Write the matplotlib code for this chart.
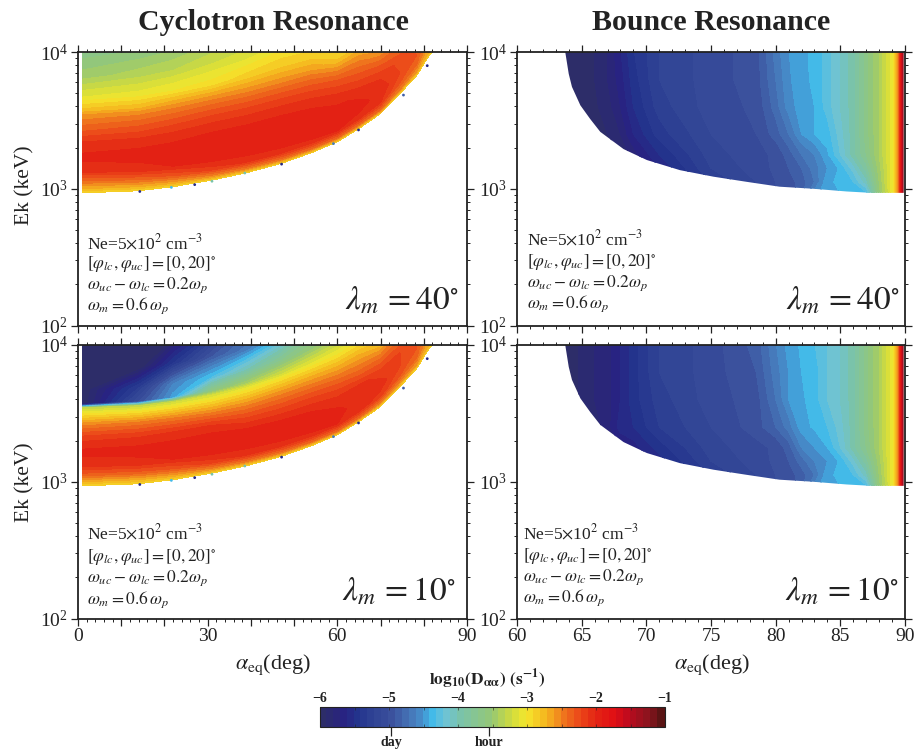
import numpy as np
import matplotlib
matplotlib.use('Agg')
import matplotlib.pyplot as plt
from matplotlib.cm import ScalarMappable
from matplotlib.colors import BoundaryNorm, LinearSegmentedColormap
from matplotlib.patches import Polygon
from matplotlib.ticker import FixedLocator, LogLocator, NullFormatter, LogFormatterMathtext

plt.rcParams['font.family'] = ['Liberation Serif', 'DejaVu Serif']
plt.rcParams['mathtext.fontset'] = 'stix'

W, H = 922, 752
INK = '#222222'

# colour scale: log10(D) -> rgb
cmap_pos = [-6, -5.7, -5.5, -5.2, -5, -4.7, -4.5, -4.4, -4.2, -4, -3.5, -3.2, -3, -2.7, -2.5, -2.2, -2, -1.7, -1.5, -1.2, -1]
cmap_rgb = [(45, 45, 105), (40, 35, 130), (35, 50, 140), (50, 70, 150), (58, 78, 155), (70, 120, 185), (70, 150, 210),
            (60, 185, 235), (110, 195, 215), (120, 195, 175), (150, 200, 115), (210, 220, 60), (245, 232, 45),
            (245, 180, 30), (240, 130, 30), (235, 70, 25), (228, 40, 20), (225, 15, 20), (190, 10, 30),
            (140, 20, 30), (90, 20, 20)]
day_pos, hour_pos = -4.97, -3.55

# cyclotron panels: lower edge of the filled region
cyc_alpha = [1, 14, 22, 31, 39, 47, 54, 60, 65, 70, 74.5, 78.4, 81, 82]
cyc_edge = [2.97, 2.985, 3.015, 3.063, 3.117, 3.185, 3.263, 3.343, 3.44, 3.55, 3.696, 3.83, 3.963, 4.0]
# height above that edge, in decades of Ek
cyc_offset = [0, .03, .08, .15, .25, .35, .45, .57, .60, .7, .85, 1.05]

# one row per cyc_alpha, one column per cyc_offset
cyc_40 = [
    [-2.9, -2.7, -2.45, -2.1, -1.97, -2.05, -2.3, -2.6, -2.75, -3.1, -3.45, -3.7],
    [-2.9, -2.7, -2.4, -2.05, -1.96, -2.03, -2.25, -2.55, -2.7, -3.05, -3.35, -3.65],
    [-2.9, -2.65, -2.3, -2.0, -1.95, -2.02, -2.2, -2.5, -2.6, -3.0, -3.3, -3.6],
    [-2.9, -2.55, -2.15, -1.96, -1.93, -2.0, -2.15, -2.45, -2.55, -2.95, -3.2, -3.5],
    [-2.9, -2.5, -2.08, -1.95, -1.93, -2.0, -2.15, -2.45, -2.55, -2.85, -3.15, -3.4],
    [-2.9, -2.45, -2.05, -1.94, -1.93, -2.0, -2.15, -2.45, -2.55, -2.8, -3.05, -3.3],
    [-2.9, -2.4, -2.02, -1.94, -1.95, -2.02, -2.2, -2.5, -2.6, -2.85, -3.05, -3.2],
    [-2.9, -2.4, -2.0, -1.94, -1.98, -2.1, -2.3, -2.7, -2.8, -3.0, -3.1, -3.2],
    [-2.9, -2.4, -2.03, -1.97, -2.02, -2.2, -2.4, -2.7, -2.8, -3.0, -3.1, -3.2],
    [-2.9, -2.4, -2.1, -2.03, -2.1, -2.3, -2.6, -2.8, -2.9, -3.0, -3.1, -3.2],
    [-2.9, -2.5, -2.3, -2.2, -2.25, -2.4, -2.6, -2.8, -2.9, -3.0, -3.1, -3.2],
    [-2.9, -2.6, -2.4, -2.3, -2.35, -2.5, -2.6, -2.8, -2.9, -3.0, -3.1, -3.2],
    [-2.9, -2.7, -2.6, -2.5, -2.5, -2.6, -2.7, -2.8, -2.9, -3.0, -3.1, -3.2],
    [-3.0, -2.8, -2.7, -2.6, -2.6, -2.7, -2.8, -2.9, -3.0, -3.1, -3.2, -3.3],
]
cyc_10 = [
    [-2.9, -2.7, -2.35, -2.05, -1.97, -2.15, -2.55, -3.3, -6.0, -6.0, -6.0, -6.0],
    [-2.9, -2.7, -2.35, -2.03, -1.96, -2.12, -2.5, -3.3, -5.0, -5.3, -6.0, -6.0],
    [-2.9, -2.65, -2.3, -2.0, -1.95, -2.1, -2.5, -3.25, -4.45, -4.6, -5.4, -6.0],
    [-2.9, -2.55, -2.15, -1.96, -1.93, -2.1, -2.55, -3.2, -3.6, -4.3, -4.9, -5.5],
    [-2.9, -2.5, -2.08, -1.95, -1.95, -2.2, -2.55, -3.1, -3.4, -4.0, -4.65, -5.0],
    [-2.9, -2.45, -2.05, -1.94, -1.97, -2.2, -2.5, -3.0, -3.2, -3.7, -4.3, -4.7],
    [-2.9, -2.4, -2.02, -1.94, -2.0, -2.2, -2.5, -2.95, -3.1, -3.5, -3.9, -4.3],
    [-2.9, -2.4, -2.0, -1.96, -2.05, -2.25, -2.55, -2.95, -3.05, -3.4, -3.8, -4.1],
    [-2.9, -2.4, -2.05, -2.05, -2.05, -2.35, -2.6, -2.95, -3.05, -3.3, -3.6, -3.9],
    [-2.9, -2.5, -2.15, -2.05, -2.15, -2.4, -2.75, -3.0, -3.1, -3.3, -3.5, -3.8],
    [-2.9, -2.55, -2.3, -2.2, -2.2, -2.4, -2.6, -3.0, -3.1, -3.3, -3.5, -3.8],
    [-2.9, -2.6, -2.4, -2.3, -2.3, -2.5, -2.7, -3.0, -3.1, -3.3, -3.5, -3.8],
    [-2.9, -2.7, -2.6, -2.5, -2.5, -2.6, -2.7, -3.0, -3.1, -3.3, -3.5, -3.8],
    [-3.0, -2.8, -2.7, -2.6, -2.6, -2.7, -2.8, -3.0, -3.1, -3.3, -3.5, -3.8],
]
# small dark specks along the cyclotron edge
speck_alpha = [14.3, 21.6, 27, 31, 38.6, 47.1, 59.1, 64.9, 75.3, 80.8]
speck_edge = [2.985, 3.015, 3.035, 3.06, 3.12, 3.185, 3.335, 3.435, 3.69, 3.905]
speck_val = [-5.6, -4.4, -5.6, -4.0, -4.0, -5.6, -4.7, -5.6, -4.9, -5.6]

# bounce panels: edge of the filled region
bnc_edge_alpha = [63.73, 64, 64.25, 64.9, 65.66, 66.44, 68.24, 70.04, 72.6, 75.2, 77.8, 80.3, 82.9, 85.5, 87.4, 89.9]
bnc_edge_log = [4.0, 3.84, 3.745, 3.61, 3.51, 3.416, 3.29, 3.21, 3.136, 3.088, 3.05, 3.015, 3.0, 2.98, 2.97, 2.97]
bnc_alpha = [63.5, 66, 67, 68, 69, 71, 75, 78.5, 80, 81, 82, 83, 84, 85, 86, 87, 88, 89, 89.4, 89.6, 89.9]
bnc_log = [2.96, 3.05, 3.15, 3.25, 3.4, 3.6, 3.8, 4.05]

# one row per bnc_log, one column per bnc_alpha
bnc_40 = [
    [-6, -6, -6, -6, -5.9, -5.7, -5.2, -5.05, -5.0, -4.95, -4.85, -4.55, -4.42, -4.4, -4.38, -4.35, -3.55, -3.05, -2.6, -2.0, -1.2],
    [-6, -6, -6, -6, -5.9, -5.65, -5.3, -5.1, -5.0, -4.95, -4.85, -4.7, -4.42, -4.38, -4.3, -4.05, -3.5, -3.05, -2.6, -2.0, -1.2],
    [-6, -6, -6, -5.95, -5.85, -5.6, -5.2, -5.05, -4.98, -4.9, -4.8, -4.65, -4.5, -4.38, -4.15, -3.85, -3.45, -3.05, -2.6, -2.0, -1.2],
    [-6, -6, -6, -5.9, -5.75, -5.5, -5.15, -5.03, -4.98, -4.85, -4.7, -4.6, -4.42, -4.2, -3.95, -3.7, -3.4, -3.05, -2.6, -2.0, -1.2],
    [-6, -6, -5.9, -5.8, -5.6, -5.35, -5.1, -5.0, -4.85, -4.7, -4.5, -4.4, -4.35, -4.15, -3.95, -3.65, -3.4, -3.05, -2.6, -2.0, -1.2],
    [-6, -5.92, -5.85, -5.7, -5.5, -5.25, -5.05, -4.98, -4.75, -4.55, -4.45, -4.4, -4.25, -4.1, -3.95, -3.65, -3.4, -3.05, -2.6, -2.0, -1.2],
    [-6, -5.9, -5.8, -5.65, -5.45, -5.2, -5.05, -4.95, -4.7, -4.52, -4.43, -4.38, -4.25, -4.1, -3.95, -3.65, -3.4, -3.05, -2.6, -2.0, -1.2],
    [-6, -5.9, -5.8, -5.6, -5.4, -5.2, -5.05, -4.95, -4.65, -4.5, -4.42, -4.38, -4.25, -4.1, -3.95, -3.65, -3.4, -3.05, -2.6, -2.0, -1.2],
]
bnc_10 = [
    [-6, -6, -6, -5.95, -5.85, -5.65, -5.2, -5.05, -5.0, -4.95, -4.85, -4.55, -4.42, -4.4, -4.38, -4.35, -3.55, -3.05, -2.6, -2.0, -1.2],
    [-6, -6, -6, -5.9, -5.8, -5.6, -5.3, -5.1, -5.0, -4.95, -4.85, -4.7, -4.42, -4.38, -4.3, -4.05, -3.5, -3.05, -2.6, -2.0, -1.2],
    [-6, -6, -5.95, -5.8, -5.7, -5.55, -5.2, -5.05, -4.98, -4.9, -4.75, -4.6, -4.5, -4.38, -4.15, -3.85, -3.45, -3.05, -2.6, -2.0, -1.2],
    [-6, -6, -5.85, -5.7, -5.65, -5.45, -5.15, -5.03, -4.98, -4.85, -4.6, -4.5, -4.4, -4.2, -3.95, -3.7, -3.4, -3.05, -2.6, -2.0, -1.2],
    [-6, -5.85, -5.75, -5.55, -5.5, -5.3, -5.1, -4.95, -4.8, -4.65, -4.45, -4.38, -4.3, -4.15, -3.95, -3.65, -3.4, -3.05, -2.6, -2.0, -1.2],
    [-6, -5.8, -5.75, -5.6, -5.45, -5.25, -5.05, -4.95, -4.7, -4.5, -4.42, -4.35, -4.2, -4.1, -3.95, -3.65, -3.4, -3.05, -2.6, -2.0, -1.2],
    [-6, -5.8, -5.75, -5.6, -5.45, -5.2, -5.05, -4.9, -4.65, -4.5, -4.4, -4.35, -4.2, -4.1, -3.95, -3.65, -3.4, -3.05, -2.6, -2.0, -1.2],
    [-6, -5.8, -5.75, -5.6, -5.45, -5.2, -5.05, -4.85, -4.6, -4.45, -4.38, -4.3, -4.2, -4.1, -3.95, -3.65, -3.4, -3.05, -2.6, -2.0, -1.2],
]

param_lines = [r'Ne=5$\times$10$^{2}$ cm$^{-3}$',
               r'$[\varphi_{lc},\varphi_{uc}]=[0,20]^{\circ}$',
               r'$\omega_{uc}-\omega_{lc}=0.2\omega_{p}$',
               r'$\omega_{m}=0.6\,\omega_{p}$']

stops = [(p + 6) / 5 for p in cmap_pos]
cols = [tuple(c / 255 for c in rgb) for rgb in cmap_rgb]
cmap = LinearSegmentedColormap.from_list('dkk', list(zip(stops, cols)), N=256)
levels = np.linspace(-6, -1, 51)
norm = BoundaryNorm(levels, cmap.N)


def make_axes(x0, x1, y0, y1):
    return fig.add_axes([x0 / W, 1 - y1 / H, (x1 - x0) / W, (y1 - y0) / H])


def style_axes(ax, xlim, major, minor, xlabels):
    ax.set_xlim(*xlim)
    ax.set_yscale('log')
    ax.set_ylim(1e2, 1e4)
    for s in ax.spines.values():
        s.set_linewidth(1.3)
        s.set_color(INK)
    ax.xaxis.set_major_locator(FixedLocator(np.arange(xlim[0], xlim[1] + 1, major)))
    ax.xaxis.set_minor_locator(FixedLocator(np.arange(xlim[0], xlim[1] + 1, minor)))
    ax.yaxis.set_major_locator(LogLocator(base=10))
    ax.yaxis.set_major_formatter(LogFormatterMathtext())
    ax.yaxis.set_minor_locator(LogLocator(base=10, subs=range(2, 10), numticks=10))
    ax.yaxis.set_minor_formatter(NullFormatter())
    ax.tick_params(which='major', direction='out', length=5, width=0.9, color=INK, top=True, right=True,
                   labelsize=14, labelcolor=INK, pad=2)
    ax.tick_params(which='minor', direction='out', length=2, width=0.7, color=INK, top=True, right=True)
    if xlabels is None:
        ax.set_xticklabels([])
    else:
        ax.set_xticklabels(xlabels)
    ax.set_zorder(2)


def add_notes(x_px, y_px, lam_text, lam_x, lam_y):
    for line, y in zip(param_lines, y_px):
        fig.text(x_px / W, 1 - y / H, line, fontsize=12.5, color=INK, va='center', ha='left', zorder=5)
    fig.text(lam_x / W, 1 - lam_y / H, lam_text, fontsize=24, color=INK, ha='right', va='center', zorder=5)


def draw_cyclotron(ax, table):
    X = np.tile(cyc_alpha, (len(cyc_offset), 1))
    Y = np.array(cyc_edge)[None, :] + np.array(cyc_offset)[:, None]
    Z = np.array(table).T
    ax.contourf(X, 10 ** Y, Z, levels=levels, cmap=cmap, norm=norm)
    ax.scatter(speck_alpha, 10 ** (np.array(speck_edge) - 0.005), c=speck_val, cmap=cmap, norm=norm, s=4, marker='o',
               linewidths=0)


def draw_bounce(ax, table):
    cs = ax.contourf(bnc_alpha, 10 ** np.array(bnc_log), np.array(table), levels=levels, cmap=cmap, norm=norm)
    verts = list(zip(bnc_edge_alpha, 10 ** np.array(bnc_edge_log))) + [(89.9, 1e4)]
    cs.set_clip_path(Polygon(verts, closed=True, transform=ax.transData))


fig = plt.figure(figsize=(W / 100, H / 100), dpi=100)

ax_c40 = make_axes(78, 467, 52, 325.5)
ax_b40 = make_axes(517, 905, 52, 325.5)
ax_c10 = make_axes(78, 467, 345, 618.5)
ax_b10 = make_axes(517, 905, 345, 618.5)

draw_cyclotron(ax_c40, cyc_40)
draw_cyclotron(ax_c10, cyc_10)
draw_bounce(ax_b40, bnc_40)
draw_bounce(ax_b10, bnc_10)

cyc_labels = ['0', '', '', '30', '', '', '60', '', '', '90']
style_axes(ax_c40, (0, 90), 10, 2, None)
style_axes(ax_c10, (0, 90), 10, 2, cyc_labels)
style_axes(ax_b40, (60, 90), 5, 1, None)
style_axes(ax_b10, (60, 90), 5, 1, ['60', '65', '70', '75', '80', '85', '90'])

add_notes(87, [243, 264, 285, 306], r'$\lambda_{m}\,=40^{\circ}$', 459, 301)
add_notes(527, [239, 262, 283, 304], r'$\lambda_{m}\,=40^{\circ}$', 900, 301)
add_notes(87, [533, 557, 578, 600], r'$\lambda_{m}\,=10^{\circ}$', 456, 592)
add_notes(523, [533, 556, 577, 598], r'$\lambda_{m}\,=10^{\circ}$', 899, 592)

fig.text(273 / W, 1 - 22 / H, 'Cyclotron Resonance', fontsize=21.5, fontweight='bold', color=INK, ha='center', va='center')
fig.text(711 / W, 1 - 22 / H, 'Bounce Resonance', fontsize=21.5, fontweight='bold', color=INK, ha='center', va='center')
for y in (185, 482):
    fig.text(25 / W, 1 - y / H, 'Ek (keV)', fontsize=15.5, color=INK, rotation=90, ha='center', va='center')
for x in (273, 712):
    fig.text(x / W, 1 - 665 / H, r'$\alpha_{\mathrm{eq}}$(deg)', fontsize=16, color=INK, ha='center', va='center')

# colour bar with its day and hour marks
cax = make_axes(320, 665, 707, 727)
cb = fig.colorbar(ScalarMappable(norm=norm, cmap=cmap), cax=cax, orientation='horizontal', spacing='proportional',
                  ticks=[-6, -5, -4, -3, -2, -1], drawedges=False)
cb.solids.set_edgecolor('face')
cb.outline.set_linewidth(0.8)
cb.outline.set_edgecolor(INK)
cax.xaxis.set_ticks_position('top')
cax.xaxis.set_label_position('top')
cax.set_xticklabels(['\u22126', '\u22125', '\u22124', '\u22123', '\u22122', '\u22121'], fontweight='bold', fontsize=10)
cax.xaxis.set_minor_locator(FixedLocator(np.arange(-5.5, -1, 1)))
cax.tick_params(which='major', direction='in', length=2, width=0.4, top=True, bottom=True, color=INK, labelcolor=INK, pad=1.5)
cax.tick_params(which='minor', direction='in', length=2, width=0.4, top=True, bottom=True, color=INK)
sec = cax.secondary_xaxis('bottom')
sec.set_xticks([day_pos, hour_pos], ['day', 'hour'], fontweight='bold', fontsize=10, color=INK)
sec.tick_params(direction='out', length=6.5, width=0.9, color=INK, pad=0)
sec.spines['bottom'].set_visible(False)
fig.text(487 / W, 1 - 679 / H, r'$\mathbf{log_{10}(D_{\alpha\alpha})\ (s^{-1})}$', fontsize=12.5, color=INK, ha='center', va='center')

fig.savefig('out.png', dpi=100)
